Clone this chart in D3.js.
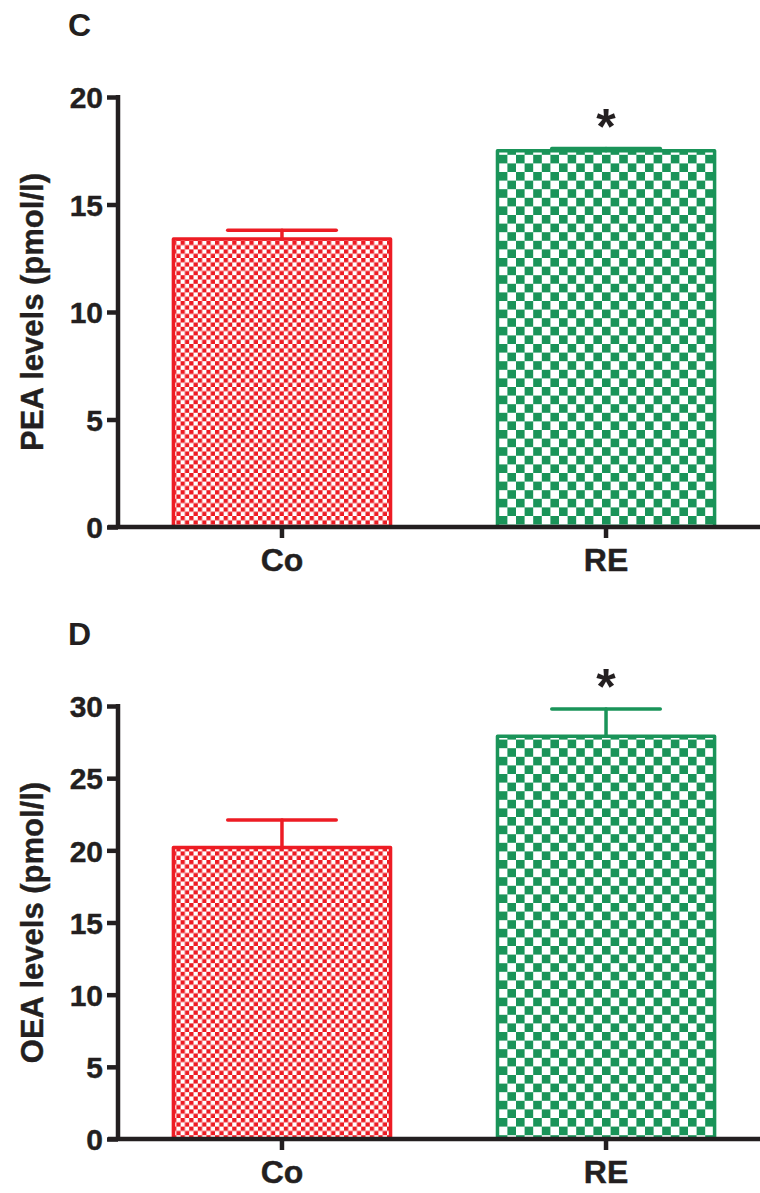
<!DOCTYPE html>
<html>
<head>
  <meta charset="UTF-8">
  <title>PEA / OEA levels</title>
  <style>
    body {
        margin: 0;
        background-color: #fff;
    }
    svg text {
        font-family: "Liberation Sans", Arial, helvetica, sans-serif;
        font-weight: bold;
        fill: #231f20;
    }
  </style>
</head>
<body>
<svg></svg>
<script src="https://d3js.org/d3.v7.min.js"></script>
<script>

// data
let groups = ["Co", "RE"];

let peaMeans = [13.4, 17.5];
let peaErrors = [0.4, 0.1];
let peaTicks = [0, 5, 10, 15, 20];

let oeaMeans = [20.2, 27.9];
let oeaErrors = [1.9, 1.9];
let oeaTicks = [0, 5, 10, 15, 20, 25, 30];

let significant = ["", "*"];

//dimensions
let width = 760, height = 1193;

let svg = d3.select("svg")
    .attr("width", width)
    .attr("height", height);

// colours for the two groups
let colors = {Co: "#ed1c24", RE: "#1a9459"};
let ink = "#231f20";

// checker fills (red fine, green coarse)
let defs = svg.append("defs");
function checker(id, color, size) {
  let p = defs.append("pattern")
      .attr("id", id)
      .attr("patternUnits", "userSpaceOnUse")
      .attr("width", size * 2)
      .attr("height", size * 2);
  p.append("rect").attr("width", size * 2).attr("height", size * 2).attr("fill", "#fff");
  p.append("rect").attr("width", size).attr("height", size).attr("fill", color);
  p.append("rect").attr("x", size).attr("y", size).attr("width", size).attr("height", size).attr("fill", color);
}
checker("fillCo", colors.Co, 4.3);
checker("fillRE", colors.RE, 8.6);

// x scale shared by both panels
let x = d3.scaleBand()
    .domain(groups)
    .range([118, 770])
    .paddingInner(0.33)
    .paddingOuter(0.171);

function drawPanel(letter, top, bottom, maxY, ticks, means, errors, yTitle) {
  let y = d3.scaleLinear().domain([0, maxY]).range([bottom, top]);
  let g = svg.append("g");

  // panel letter
  g.append("text")
      .attr("x", 68)
      .attr("y", top - 61)
      .attr("font-size", 32)
      .text(letter);

  // bars
  g.selectAll("rect.bar")
    .data(groups)
    .enter()
    .append("rect")
      .attr("class", "bar")
      .attr("x", d => x(d))
      .attr("y", (d, i) => y(means[i]))
      .attr("width", x.bandwidth())
      .attr("height", (d, i) => y(0) - y(means[i]))
      .attr("fill", d => "url(#fill" + d + ")")
      .attr("stroke", d => colors[d])
      .attr("stroke-width", 3.5)
      .attr("stroke-linejoin", "round");

  // error bars (upper only)
  let err = g.selectAll("g.err")
    .data(groups)
    .enter()
    .append("g")
      .attr("class", "err")
      .attr("stroke", d => colors[d])
      .attr("stroke-width", 3.5)
      .attr("stroke-linecap", "round");
  err.append("line")
      .attr("x1", d => x(d) + x.bandwidth() / 2)
      .attr("x2", d => x(d) + x.bandwidth() / 2)
      .attr("y1", (d, i) => y(means[i]))
      .attr("y2", (d, i) => y(means[i] + errors[i]));
  err.append("line")
      .attr("x1", d => x(d) + x.bandwidth() / 4)
      .attr("x2", d => x(d) + x.bandwidth() * 3 / 4)
      .attr("y1", (d, i) => y(means[i] + errors[i]))
      .attr("y2", (d, i) => y(means[i] + errors[i]));

  // significance stars
  g.selectAll("text.star")
    .data(groups)
    .enter()
    .append("text")
      .attr("class", "star")
      .attr("x", d => x(d) + x.bandwidth() / 2)
      .attr("y", (d, i) => y(means[i] + errors[i]) - 5)
      .attr("text-anchor", "middle")
      .attr("font-size", 50)
      .text((d, i) => significant[i]);

  // y axis
  let yAxis = g.append("g")
      .attr("transform", "translate(118,0)")
      .call(d3.axisLeft(y).tickValues(ticks).tickSize(11).tickSizeOuter(0).tickPadding(4));
  yAxis.select(".domain").attr("stroke", ink).attr("stroke-width", 4.5)
      .attr("d", "M0," + (top - 2) + "V" + (bottom + 2));
  yAxis.selectAll(".tick line").attr("stroke", ink).attr("stroke-width", 4.5);
  yAxis.selectAll(".tick text")
      .attr("font-size", 30)
      .attr("font-family", null)
      .attr("dy", "0.36em")
      .attr("fill", ink)
      .attr("stroke", ink)
      .attr("stroke-width", 0.4);

  // x axis
  let xAxis = g.append("g")
      .attr("transform", "translate(0," + bottom + ")")
      .call(d3.axisBottom(x).tickSize(11).tickSizeOuter(0).tickPadding(8));
  xAxis.select(".domain").attr("stroke", ink).attr("stroke-width", 4.5)
      .attr("d", "M108,0H770");
  xAxis.selectAll(".tick line").attr("stroke", ink).attr("stroke-width", 4.5);
  xAxis.selectAll(".tick text")
      .attr("font-size", 32)
      .attr("font-family", null)
      .attr("dy", "0.78em")
      .attr("fill", ink)
      .attr("stroke", ink)
      .attr("stroke-width", 0.4);

  // y title
  g.append("text")
      .attr("transform", "translate(43," + ((top + bottom) / 2) + ") rotate(-90)")
      .attr("text-anchor", "middle")
      .attr("font-size", 31)
      .attr("stroke", ink)
      .attr("stroke-width", 0.4)
      .text(yTitle);
}

drawPanel("C", 97, 527, 20, peaTicks, peaMeans, peaErrors, "PEA levels (pmol/l)");
drawPanel("D", 706, 1139, 30, oeaTicks, oeaMeans, oeaErrors, "OEA levels (pmol/l)");

</script>
</body>
</html>
